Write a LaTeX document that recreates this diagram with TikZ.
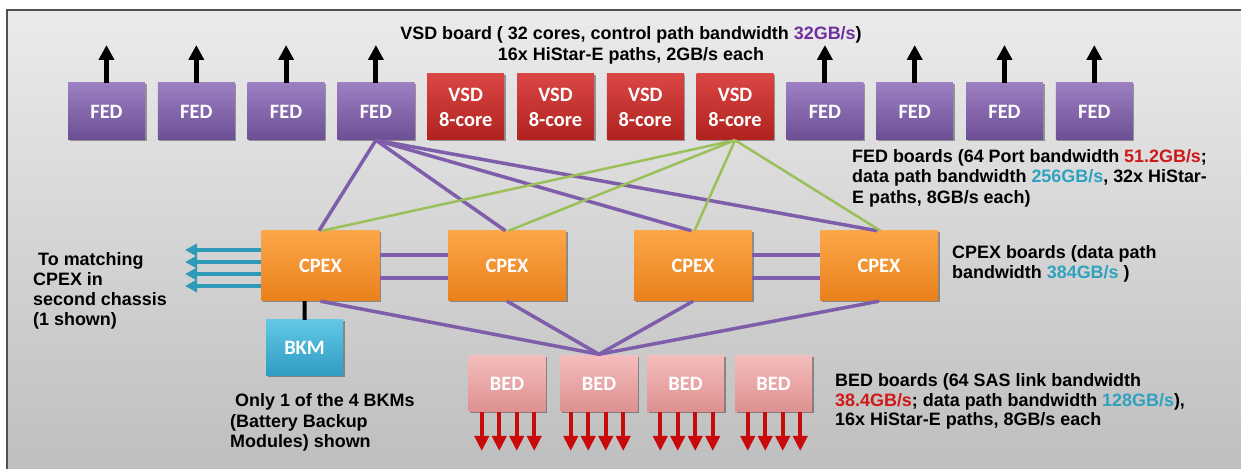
\documentclass[tikz,border=0pt]{standalone}
\usepackage{fontspec}
\setmainfont{Liberation Sans}
\newfontfamily\boxfont{Carlito}
\usetikzlibrary{arrows.meta,shadows}
\definecolor{fedtop}{HTML}{9C80C2}
\definecolor{fedbot}{HTML}{6C4E94}
\definecolor{vsdtop}{HTML}{DA4644}
\definecolor{vsdbot}{HTML}{B0221F}
\definecolor{cpextop}{HTML}{FCA648}
\definecolor{cpexbot}{HTML}{E9801C}
\definecolor{bkmtop}{HTML}{62C8E6}
\definecolor{bkmbot}{HTML}{2E9CC2}
\definecolor{bedtop}{HTML}{F4BCBC}
\definecolor{bedbot}{HTML}{DE9090}
\definecolor{linepurple}{HTML}{7E5EAA}
\definecolor{linegreen}{HTML}{9BC05A}
\definecolor{arrcyan}{HTML}{2E9AB8}
\definecolor{arrred}{HTML}{C80A0A}
\definecolor{txtpurple}{HTML}{7030A0}
\definecolor{txtred}{HTML}{D01818}
\definecolor{txtcyan}{HTML}{2FA2C0}
\definecolor{bgtop}{HTML}{EBEBEB}
\definecolor{bgbot}{HTML}{BDBDBD}
\definecolor{framecol}{HTML}{505050}
\begin{document}
\begin{tikzpicture}[x=1bp,y=-1bp,
  board/.style={rectangle, inner sep=0pt, text=white,
    font=\boxfont\bfseries\fontsize{20.5}{25}\selectfont, align=center,
    drop shadow={shadow xshift=1.5bp, shadow yshift=-1.5bp, opacity=0.35, fill=black}},
  fedbox/.style={board, minimum width=77bp, minimum height=57bp, top color=fedtop, bottom color=fedbot},
  vsdbox/.style={board, minimum width=77bp, minimum height=66bp, top color=vsdtop, bottom color=vsdbot},
  cpexbox/.style={board, minimum width=118bp, minimum height=70bp, top color=cpextop, bottom color=cpexbot},
  bkmbox/.style={board, minimum width=77bp, minimum height=56bp, top color=bkmtop, bottom color=bkmbot},
  bedbox/.style={board, minimum width=77bp, minimum height=56bp, top color=bedtop, bottom color=bedbot},
  uparrow/.style={line width=5bp, black, -{Triangle[width=15bp,length=15bp]}},
  downarrow/.style={line width=4bp, arrred, -{Triangle[width=14bp,length=15bp]}},
  sidearrow/.style={line width=3.5bp, arrcyan, -{Triangle[width=12bp,length=12bp]}},
  plink/.style={line width=3.5bp, linepurple},
  glink/.style={line width=2.5bp, linegreen},
  klink/.style={line width=4bp, black},
  note/.style={inner sep=0pt, font=\bfseries\fontsize{18}{20.5}\selectfont, align=left}
]
\useasboundingbox (0,0) rectangle (1241,469);
% background frame
\draw[framecol, line width=2.5bp, top color=bgtop, bottom color=bgbot] (7,10) rectangle (1255,485);

% FED boards and up arrows
\foreach \i in {0,1,2,3,8,9,10,11} {
  \node[fedbox] (b\i) at ({106.5+89.8*\i},111.5) {FED};
  \coordinate (up\i) at ({106.5+89.8*\i},45);
  \draw[uparrow] (b\i.north) -- (up\i);
}
% VSD boards
\foreach \i in {4,5,6,7} {
  \node[vsdbox] (b\i) at ({106.5+89.8*\i},107) {VSD\\8-core};
}
% CPEX boards
\node[cpexbox] (c1) at (320.5,266) {CPEX};
\node[cpexbox] (c2) at (507,266) {CPEX};
\node[cpexbox] (c3) at (693,266) {CPEX};
\node[cpexbox] (c4) at (879,266) {CPEX};
% BKM
\node[bkmbox] (bkm) at (304.5,348) {BKM};
% BED boards
\node[bedbox] (d1) at (507,384) {BED};
\node[bedbox] (d2) at (599,384) {BED};
\node[bedbox] (d3) at (685.5,384) {BED};
\node[bedbox] (d4) at (773.5,384) {BED};

% red down arrows
\foreach \j/\cx in {1/508,2/597,3/686.5,4/774} {
  \foreach \k/\dx in {1/-26.25,2/-8.75,3/8.75,4/26.25} {
    \coordinate (rd\j\k) at ({\cx+\dx},451);
    \draw[downarrow] (d\j.south -| rd\j\k) -- (rd\j\k);
  }
}
% cyan arrows to second chassis
\foreach \k/\yy in {1/250,2/262,3/274,4/286} {
  \coordinate (cy\k) at (185,\yy);
  \draw[sidearrow] (c1.west |- cy\k) -- (cy\k);
}
% CPEX horizontal links
\foreach \yy [count=\k] in {255,278} {
  \coordinate (h\k) at (0,\yy);
  \draw[plink] (c1.east |- h\k) -- (c2.west |- h\k);
  \draw[plink] (c3.east |- h\k) -- (c4.west |- h\k);
}
% FED -> CPEX (purple)
\foreach \c in {c1,c2,c3,c4} {
  \draw[plink] (b3.south) -- ([xshift=-1.5bp]\c.north);
}
% VSD -> CPEX (green)
\foreach \c in {c1,c2,c3,c4} {
  \draw[glink] (b7.south) -- ([xshift=1.5bp]\c.north);
}
% CPEX -> BED
\foreach \c in {c1,c2,c3,c4} {
  \draw[plink] (\c.south) -- ([yshift=1.5bp]d2.north);
}
% BKM link
\draw[klink] ([xshift=-16bp]c1.south) -- (bkm.north);

% annotations (base anchor = baseline of last line)
\node[note, align=center, anchor=base, font=\bfseries\fontsize{18}{21.7}\selectfont] (vsdtxt) at (631,61)
  {VSD board ( 32 cores, control path bandwidth \textcolor{txtpurple}{32GB/s})\\16x HiStar-E paths, 2GB/s each};
\node[note, anchor=base west] (fedtxt) at (852,203.3)
  {FED boards (64 Port bandwidth \textcolor{txtred}{51.2GB/s};\\data path bandwidth \textcolor{txtcyan}{256GB/s}, 32x HiStar-\\E paths, 8GB/s each)};
\node[note, anchor=base west, font=\bfseries\fontsize{18}{20}\selectfont] (cpextxt) at (952,278.3)
  {CPEX boards (data path\\bandwidth \textcolor{txtcyan}{384GB/s} )};
\node[note, anchor=base west, font=\bfseries\fontsize{18}{19.5}\selectfont] (bedtxt) at (835,425.7)
  {BED boards (64 SAS link bandwidth\\\textcolor{txtred}{38.4GB/s}; data path bandwidth \textcolor{txtcyan}{128GB/s}),\\16x HiStar-E paths, 8GB/s each};
\node[note, anchor=base west, font=\bfseries\fontsize{18}{20.3}\selectfont] (totxt) at (33,325.9)
  {\hspace*{5bp}To matching\\CPEX in\\second chassis\\(1 shown)};
\node[note, anchor=base west] (bkmtxt) at (230,447.7)
  {\hspace*{5bp}Only 1 of the 4 BKMs\\(Battery Backup\\Modules) shown};
\end{tikzpicture}
\end{document}
